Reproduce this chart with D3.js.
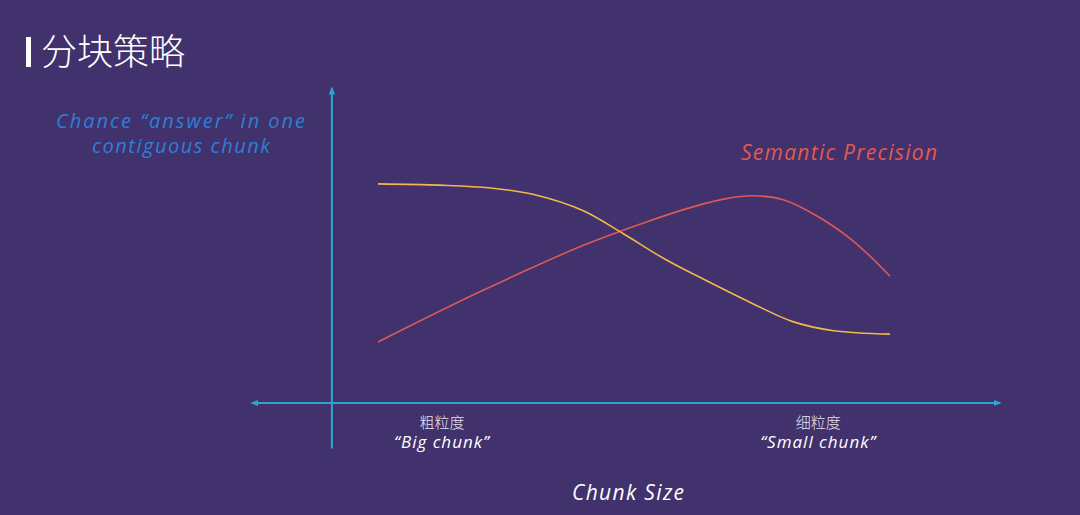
<!DOCTYPE html>
<html>
<head>
<meta charset="utf-8">
<script src="https://cdnjs.cloudflare.com/ajax/libs/d3/7.8.5/d3.min.js"></script>
<style>
  html, body { margin: 0; padding: 0; background: #41316c; }
  svg { display: block; }
  .hand { font-family: "Open Sans", Lato, sans-serif; font-style: italic; }
  .cjk { font-family: "Noto Sans CJK SC", sans-serif; }
</style>
</head>
<body>
<script>
// chunk size position (0 = big chunk, 100 = small chunk) and curve height (0-100)
var chanceX = [0, 12, 22, 31, 40, 48, 56, 64, 73, 81, 89, 100];
var chanceY = [70.0, 69.6, 68.7, 66.4, 61.5, 54.0, 46.0, 39.2, 31.9, 26.0, 23.1, 22.0];

var precisionX = [0, 20, 40, 52, 62, 68, 73, 79, 86, 93, 100];
var precisionY = [19.5, 35.6, 50.3, 57.6, 62.9, 65.3, 66.2, 65.0, 59.5, 51.5, 40.5];

var chanceLines = ["Chance \u201canswer\u201d in one", "contiguous chunk"];
var tickLabelsCn = ["粗粒度", "细粒度"];
var tickLabelsEn = ["\u201cBig chunk\u201d", "\u201cSmall chunk\u201d"];
var tickPos = [12.5, 86];

var W = 1080, H = 515;

var svg = d3.select("body").append("svg")
    .attr("width", W)
    .attr("height", H);

svg.append("rect").attr("width", W).attr("height", H).attr("fill", "#41316c");

// scales
var x = d3.scaleLinear().domain([0, 100]).range([378, 890]);
var y = d3.scaleLinear().domain([0, 100]).range([403, 90]);

// title with bar
svg.append("rect").attr("x", 26).attr("y", 37).attr("width", 5).attr("height", 30).attr("fill", "#ffffff");
svg.append("text").attr("class", "cjk")
    .attr("x", 41).attr("y", 65)
    .attr("fill", "#ffffff")
    .style("font-size", "36px")
    .style("font-weight", 300)
    .text("分块策略");

// arrow markers
var defs = svg.append("defs");
defs.append("marker")
    .attr("id", "arrow")
    .attr("viewBox", "0 0 10 10")
    .attr("refX", 8).attr("refY", 5)
    .attr("markerWidth", 4).attr("markerHeight", 4)
    .attr("orient", "auto-start-reverse")
  .append("path")
    .attr("d", "M0,1L10,5L0,9Z")
    .attr("fill", "#2ea6cc");

var axisColor = "#2ea6cc";

// horizontal axis (both ends arrowed)
svg.append("line")
    .attr("x1", x(-24.6)).attr("x2", x(121.5))
    .attr("y1", y(0)).attr("y2", y(0))
    .attr("stroke", axisColor).attr("stroke-width", 2)
    .attr("marker-start", "url(#arrow)")
    .attr("marker-end", "url(#arrow)");

// vertical axis
svg.append("line")
    .attr("x1", x(-9)).attr("x2", x(-9))
    .attr("y1", y(-14.5)).attr("y2", y(100.6))
    .attr("stroke", axisColor).attr("stroke-width", 2)
    .attr("marker-end", "url(#arrow)");

// curves
var line = d3.line()
    .x(function(d) { return x(d[0]); })
    .y(function(d) { return y(d[1]); })
    .curve(d3.curveCatmullRom.alpha(0.5));

var chance = d3.zip(chanceX, chanceY);
var precision = d3.zip(precisionX, precisionY);

svg.append("path")
    .datum(precision)
    .attr("d", line)
    .attr("fill", "none")
    .attr("stroke", "#dc5a55")
    .attr("stroke-width", 1.6);

svg.append("path")
    .datum(chance)
    .attr("d", line)
    .attr("fill", "none")
    .attr("stroke", "#f2b94a")
    .attr("stroke-width", 1.6);

// series labels
var chanceStart = [56, 92], chanceLen = [249, 178], chanceBase = [128, 153];
svg.selectAll("text.chance")
    .data(chanceLines)
    .enter().append("text")
    .attr("class", "chance hand")
    .attr("x", function(d, i) { return chanceStart[i]; })
    .attr("y", function(d, i) { return chanceBase[i]; })
    .attr("textLength", function(d, i) { return chanceLen[i]; })
    .attr("lengthAdjust", "spacing")
    .attr("fill", "#2f7fd6")
    .style("font-size", "20px")
    .text(function(d) { return d; });

svg.append("text").attr("class", "hand")
    .attr("x", 741).attr("y", 160)
    .attr("textLength", 196).attr("lengthAdjust", "spacing")
    .attr("fill", "#e25a4f")
    .style("font-size", "21px")
    .text("Semantic Precision");

// tick labels under the axis
svg.selectAll("text.tickcn")
    .data(tickLabelsCn)
    .enter().append("text")
    .attr("class", "tickcn cjk")
    .attr("x", function(d, i) { return x(tickPos[i]); })
    .attr("y", 428)
    .attr("text-anchor", "middle")
    .attr("fill", "#e6e3ef")
    .style("font-size", "15px")
    .style("font-weight", 300)
    .text(function(d) { return d; });

svg.selectAll("text.tick-en")
    .data(tickLabelsEn)
    .enter().append("text")
    .attr("class", "tick-en hand")
    .attr("x", function(d, i) { return x(tickPos[i]); })
    .attr("y", 448)
    .attr("text-anchor", "middle")
    .attr("fill", "#ffffff")
    .style("font-size", "17px")
    .style("letter-spacing", "1px")
    .text(function(d) { return d; });

// axis title
svg.append("text").attr("class", "hand")
    .attr("x", 572).attr("y", 500)
    .attr("textLength", 112).attr("lengthAdjust", "spacing")
    .attr("fill", "#ffffff")
    .style("font-size", "21px")
    .text("Chunk Size");
</script>
</body>
</html>
